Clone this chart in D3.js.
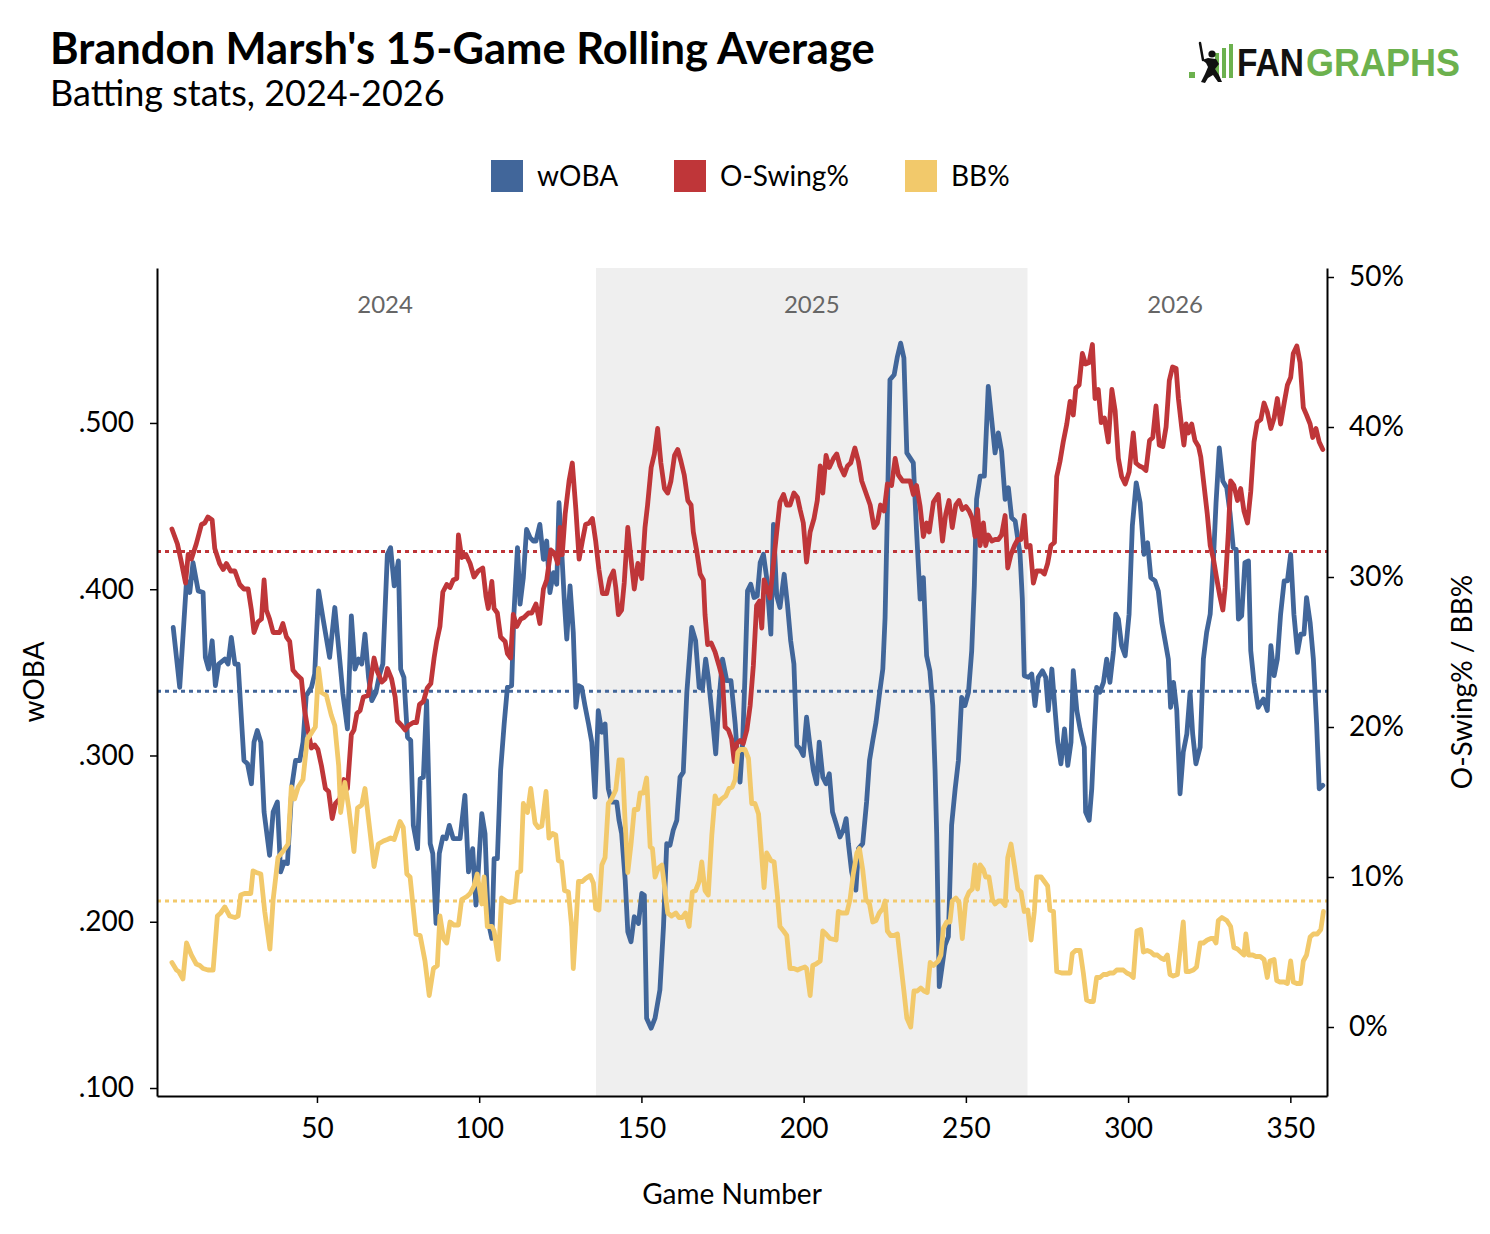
<!DOCTYPE html>
<html lang="en">
<head>
<meta charset="utf-8">
<title>Brandon Marsh's 15-Game Rolling Average</title>
<script src="https://cdn.jsdelivr.net/npm/d3@7"></script>
<style>
  body { margin: 0; background: #fff; }
  svg text { font-family: Lato, "Open Sans", sans-serif; }
</style>
</head>
<body>
<script>
// series: [game number, value]
var wobaPoints = [[5.7,.377],[7.7,.341],[9.8,.405],[10.8,.398],[11.8,.416],[13.4,.399],[14.9,.398],[15.6,.359],[16.6,.352],[17.7,.369],[18.7,.342],[19.7,.355],[21.6,.358],[22.6,.355],[23.6,.371],[24.7,.355],[25.7,.355],[26.9,.316],[27.5,.297],[28.6,.295],[29.8,.283],[30.6,.308],[31.6,.315],[32.7,.308],[33.7,.266],[35.4,.240],[36.5,.266],[37.8,.272],[38.8,.230],[39.9,.236],[40.9,.235],[42.3,.282],[43.4,.297],[44.7,.297],[45.7,.308],[46.7,.336],[48.3,.341],[49.3,.349],[50.5,.399],[51.9,.382],[53.9,.359],[55.5,.389],[57.0,.358],[58.0,.337],[59.4,.316],[60.6,.384],
  [61.7,.352],[62.8,.358],[63.8,.355],[64.8,.373],[65.9,.347],[66.9,.333],[68.2,.338],[69.2,.348],[70.3,.355],[71.7,.421],[72.7,.425],[73.8,.402],[75.1,.417],[75.8,.352],[76.8,.347],[77.9,.311],[78.9,.309],[79.7,.258],[81.0,.244],[81.8,.286],[82.8,.287],[83.8,.333],[84.9,.247],[85.7,.241],[86.7,.199],[87.7,.241],[88.8,.251],[89.8,.250],[90.8,.258],[92.0,.250],[94.1,.250],[95.6,.276],[96.7,.230],[98.0,.244],[99.0,.210],[99.7,.230],[100.8,.265],[101.8,.253],[102.8,.200],[103.9,.190],[104.6,.238],[105.6,.238],[106.6,.291],[107.7,.319],[108.7,.341],[110.0,.342],[110.7,.385],[111.8,.425],[112.6,.391],[113.6,.407],[114.6,.436],[115.7,.431],[116.7,.429],[117.5,.429],[118.7,.439],[119.8,.418],[120.8,.429],
  [121.8,.398],[122.9,.410],[123.9,.403],[124.6,.452],[125.4,.424],[126.3,.391],[127.0,.370],[128.0,.402],[129.0,.374],[129.8,.329],[130.6,.342],[131.6,.341],[132.6,.330],[133.7,.319],[134.7,.308],[135.7,.275],[136.7,.327],[137.8,.314],[138.8,.319],[139.8,.280],[140.8,.272],[142.4,.272],[143.1,.261],[143.9,.253],[145.0,.225],[145.8,.194],[146.8,.188],[147.8,.203],[149.1,.199],[150.1,.217],[150.9,.216],[151.6,.142],[153.0,.136],[154.2,.142],[155.7,.159],[156.8,.197],[157.8,.247],[158.8,.246],[159.8,.255],[160.9,.261],[161.9,.287],[162.9,.290],[164.0,.338],[165.5,.377],[166.7,.369],[167.8,.341],[168.8,.340],[169.8,.358],[170.6,.347],[171.9,.322],[172.9,.301],[173.9,.333],[175.0,.358],[176.3,.345],[177.6,.345],[178.9,.319],[179.9,.291],
  [180.4,.284],[181.2,.308],[181.9,.347],[182.7,.399],[183.7,.403],[184.7,.395],[185.7,.396],[186.6,.416],[187.6,.421],[188.6,.407],[189.9,.373],[190.7,.439],[191.7,.396],[192.7,.389],[194.0,.409],[195.0,.391],[196.0,.369],[197.0,.355],[197.9,.306],[198.9,.304],[199.9,.300],[200.9,.323],[202.0,.305],[203.0,.291],[204.0,.283],[204.8,.308],[205.9,.287],[206.9,.283],[207.9,.289],[208.9,.266],[210.0,.259],[211.2,.251],[212.2,.255],[213.1,.262],[213.8,.247],[214.8,.230],[216.1,.219],[216.9,.244],[218.2,.247],[219.4,.272],[220.3,.297],[221.3,.309],[222.3,.320],[223.3,.336],[224.4,.352],[225.1,.383],[225.8,.446],[226.6,.526],[227.9,.529],[228.9,.540],[229.9,.548],[230.9,.539],[231.8,.482],[232.8,.479],[233.8,.476],[234.8,.435],[235.9,.394],[236.9,.407],[237.9,.360],[238.9,.351],[239.8,.330],[240.5,.291],[241.0,.253],[241.8,.161],
  [242.8,.175],[243.6,.186],[244.6,.191],[245.6,.258],[246.7,.280],[247.7,.297],[248.7,.335],[249.7,.330],[250.8,.338],[251.8,.363],[252.6,.402],[253.3,.454],[254.4,.468],[255.7,.468],[256.9,.522],[258.0,.501],[259.0,.482],[260.0,.494],[261.0,.483],[262.1,.454],[263.1,.461],[264.1,.443],[265.2,.441],[266.7,.421],[267.4,.394],[268.0,.348],[269.3,.347],[270.3,.349],[271.3,.330],[272.3,.347],[273.6,.351],[274.6,.347],[275.4,.327],[276.5,.352],[277.5,.327],[278.3,.308],[279.3,.295],[280.4,.316],[281.4,.294],[282.4,.308],[283.1,.351],[284.2,.327],[285.2,.316],[286.5,.305],[286.9,.266],[288.0,.261],[288.8,.280],[289.6,.314],[290.3,.341],[291.3,.338],[292.4,.344],[293.4,.358],[294.4,.344],[295.5,.363],[296.2,.385],[297.0,.382],[298.0,.366],[299.1,.360],[300.3,.385],[301.3,.438],[302.5,.464],
  [303.7,.452],[304.9,.421],[306.0,.428],[307.0,.407],[308.3,.405],[309.3,.399],[310.4,.380],[311.4,.369],[312.4,.358],[313.1,.329],[314.0,.344],[315.0,.327],[316.0,.277],[317.0,.302],[318.1,.313],[319.1,.338],[319.9,.313],[320.9,.295],[322.2,.305],[323.2,.358],[324.2,.374],[325.3,.385],[326.3,.418],[327.1,.452],[328.1,.485],[329.2,.465],[330.4,.461],[331.4,.446],[332.4,.425],[333.3,.424],[334.0,.382],[335.0,.384],[336.0,.416],[337.1,.417],[337.8,.363],[338.8,.344],[340.1,.329],[341.7,.334],[342.9,.327],[344.0,.366],[345.0,.348],[346.0,.358],[347.0,.385],[348.1,.405],[349.1,.405],[350.1,.421],[351.1,.385],[352.2,.362],[353.2,.373],[354.2,.373],[355.0,.395],[356.1,.380],[357.1,.358],[358.1,.319],[358.9,.280],[360.0,.282]];

var oswingPoints = [[5.3,33.2],[7.0,32.2],[8.2,31.0],[9.5,29.6],[10.3,31.5],[11.3,31.2],[12.8,32.2],[14.4,33.5],[15.4,33.6],[16.4,34.0],[17.7,33.8],[18.5,31.9],[20.0,30.9],[21.1,30.5],[22.1,30.9],[23.4,30.4],[24.7,30.4],[26.2,29.5],[27.5,29.2],[28.8,29.2],[29.8,27.8],[30.6,26.3],[31.8,27.0],[32.9,27.2],[33.7,29.8],[34.4,27.8],[35.4,27.2],[36.5,26.3],[38.5,26.3],[39.5,26.9],[40.6,26.0],[41.6,25.7],[42.6,23.8],[43.7,23.5],[45.2,23.2],[46.2,21.1],[47.3,19.7],[48.3,18.6],[49.3,18.8],[50.3,18.5],[51.4,17.4],[52.6,15.9],[53.6,15.7],[54.7,13.9],[55.7,14.9],[57.0,15.2],[58.3,16.5],[59.4,15.9],[60.6,19.5],
  [61.4,19.8],[62.3,20.9],[63.3,21.1],[64.3,22.0],[65.8,22.1],[67.6,24.6],[68.6,23.7],[70.0,23.0],[71.0,23.2],[71.7,23.9],[73.0,23.2],[74.1,22.0],[74.8,20.4],[76.1,20.1],[77.2,19.8],[78.2,20.1],[79.7,20.3],[80.7,20.3],[81.6,21.5],[82.8,21.7],[84.0,22.6],[85.1,22.9],[86.1,24.6],[86.9,25.7],[87.9,26.7],[88.8,29.0],[90.0,29.5],[91.0,29.3],[92.0,29.8],[93.1,29.9],[93.6,32.8],[94.6,31.3],[95.9,31.5],[97.2,30.9],[98.4,30.0],[99.7,30.4],[101.1,30.6],[102.1,28.7],[102.8,27.9],[103.9,29.7],[104.6,27.9],[105.6,27.6],[106.6,26.0],[108.0,25.7],[108.7,24.9],[109.7,24.6],[110.5,27.5],[111.6,26.7],[112.8,27.2],[113.8,27.3],[115.2,27.6],[116.2,27.6],[117.5,28.2],[118.7,26.9],[119.8,29.2],[120.8,29.8],
  [122.1,31.8],[123.2,31.6],[124.2,30.9],[124.9,33.3],[125.6,31.5],[126.5,34.2],[127.7,36.4],[128.7,37.6],[129.8,34.5],[130.8,31.2],[131.8,32.4],[132.8,33.5],[133.9,33.6],[134.9,33.9],[135.9,32.4],[136.9,30.5],[138.0,28.9],[139.3,28.9],[140.3,29.9],[141.4,30.4],[142.1,29.3],[142.9,27.5],[143.9,27.8],[144.7,29.6],[145.8,33.3],[146.8,31.2],[147.8,29.2],[148.9,30.9],[150.1,29.9],[151.1,33.3],[151.9,34.8],[153.0,37.3],[154.0,38.2],[155.0,39.9],[156.0,37.6],[157.1,35.9],[158.1,35.6],[159.1,36.4],[160.2,38.1],[161.2,38.5],[162.2,37.7],[163.2,36.8],[164.3,35.1],[165.3,34.8],[166.0,33.0],[167.0,31.8],[168.1,30.2],[169.1,29.8],[169.6,27.5],[170.4,25.5],[171.5,25.6],[172.7,25.0],[173.9,24.1],[175.0,23.2],[175.8,20.0],[176.8,19.8],[177.8,19.2],[178.6,17.7],[179.4,18.9],
  [180.4,19.1],[181.4,18.9],[182.5,19.8],[183.5,21.4],[184.5,24.1],[185.5,28.1],[186.4,28.4],[187.1,26.6],[187.8,29.8],[188.6,29.3],[189.6,28.6],[190.7,30.9],[191.7,33.0],[192.7,35.0],[193.8,35.5],[194.8,34.8],[195.8,34.8],[197.0,35.6],[198.1,35.3],[198.9,34.5],[199.9,33.6],[200.9,31.0],[202.0,33.0],[203.2,33.9],[204.2,35.1],[205.1,37.4],[205.9,35.6],[206.9,38.1],[207.9,37.3],[209.2,37.9],[210.2,38.2],[211.2,37.4],[212.5,36.8],[213.5,37.4],[214.5,37.6],[215.8,38.6],[216.9,37.7],[217.9,36.4],[219.2,35.6],[220.5,34.8],[221.7,33.3],[222.7,33.6],[223.7,34.8],[224.8,34.4],[225.8,36.2],[227.1,36.1],[228.2,37.9],[229.2,36.8],[230.5,36.4],[231.8,36.4],[232.8,36.4],[233.8,35.5],[234.8,36.1],[235.9,34.7],[236.9,32.7],[237.9,33.6],[238.7,33.0],[240.0,35.0],
  [241.5,35.5],[242.8,32.4],[243.8,34.2],[244.8,35.1],[245.8,33.3],[246.9,34.8],[247.9,35.1],[248.9,34.5],[250.0,34.7],[251.0,34.4],[252.0,33.9],[252.8,32.7],[253.6,34.5],[254.4,32.1],[255.4,33.6],[256.1,32.1],[256.9,32.8],[258.0,32.4],[259.0,32.5],[260.0,32.5],[261.0,32.8],[262.1,34.1],[262.9,30.6],[263.9,31.5],[265.0,32.1],[266.0,32.5],[267.0,32.5],[268.0,34.1],[268.7,32.0],[269.8,32.1],[270.8,29.6],[271.8,30.4],[273.2,30.4],[274.2,30.2],[275.2,30.9],[276.2,32.1],[277.3,32.3],[278.0,36.7],[279.0,37.7],[280.0,39.0],[281.1,40.2],[282.1,41.7],[283.1,40.8],[283.9,42.6],[284.9,42.8],[285.9,44.9],[286.9,44.2],[288.0,44.3],[289.0,45.5],[289.8,41.9],[290.8,42.5],[291.7,40.3],[292.7,40.6],[293.9,39.0],[295.0,42.5],[296.0,41.1],[297.0,37.9],[298.0,36.7],[299.1,36.2],[300.3,37.0],[301.6,39.6],
  [302.4,37.6],[303.5,37.4],[304.5,37.3],[305.5,37.1],[306.6,39.1],[307.6,39.3],[308.6,41.4],[309.6,38.8],[310.7,38.7],[311.7,40.0],[312.7,43.1],[313.7,44.0],[314.8,43.9],[315.5,41.9],[316.5,40.0],[317.2,38.8],[317.9,40.2],[318.6,39.6],[319.6,40.2],[320.6,39.1],[321.7,38.7],[322.4,38.0],[323.4,36.1],[324.4,34.2],[325.3,32.1],[326.3,31.2],[327.3,29.9],[328.3,28.7],[329.2,27.8],[329.9,29.3],[330.9,33.0],[331.6,36.4],[332.6,36.1],[333.7,35.1],[334.7,35.9],[335.7,34.4],[336.8,33.6],[337.8,35.7],[338.8,39.0],[339.8,40.3],[340.9,40.5],[341.9,41.6],[342.9,41.0],[344.0,39.9],[345.0,40.6],[346.0,41.9],[347.0,40.2],[348.1,41.6],[349.1,42.8],[350.1,43.3],[350.9,44.9],[352.0,45.4],[353.0,44.3],[354.0,41.3],[355.0,40.8],[356.1,40.2],[356.9,39.3],[357.9,39.9],[358.9,39.0],[360.0,38.5]];

var bbPoints = [[5.3,4.3],[6.7,3.8],[7.4,3.7],[8.7,3.2],[9.8,5.6],[11.3,4.8],[12.8,4.2],[13.9,4.1],[14.9,3.9],[16.4,3.8],[18.0,3.8],[19.3,7.4],[20.3,7.6],[21.6,8.0],[23.1,7.4],[24.7,7.3],[25.7,7.4],[26.5,8.8],[27.7,8.9],[29.6,8.9],[30.3,10.4],[31.3,10.3],[32.7,10.2],[33.9,7.7],[35.5,5.2],[36.5,8.5],[38.0,11.3],[39.5,11.7],[41.1,12.2],[42.1,16.0],[43.1,15.2],[44.2,16.0],[45.7,16.5],[47.0,19.2],[48.3,19.6],[49.5,20.0],[50.5,23.9],[51.4,22.3],[52.9,22.1],[54.4,20.8],[55.5,20.1],[56.7,17.4],[57.3,14.3],[58.6,16.3],[59.8,14.6],[61.4,11.7],
  [62.5,14.6],[63.8,14.8],[64.8,15.9],[66.2,13.3],[67.6,10.7],[68.9,12.2],[70.5,12.4],[71.7,12.5],[72.7,12.6],[73.8,12.5],[75.6,13.7],[76.6,13.3],[77.7,10.2],[78.7,10.0],[80.5,6.2],[81.8,6.1],[83.3,4.4],[84.6,2.1],[85.9,3.9],[87.1,4.1],[87.9,7.4],[89.0,5.9],[90.0,5.6],[91.0,7.0],[92.2,6.8],[93.6,6.8],[94.6,8.5],[96.2,8.7],[97.2,8.9],[98.4,9.4],[99.4,10.2],[100.8,8.2],[101.5,10.0],[102.5,6.7],[103.9,6.7],[104.6,6.4],[105.9,4.5],[106.9,8.6],[108.3,8.4],[109.5,8.3],[111.0,8.4],[111.8,10.3],[112.8,10.4],[113.6,14.9],[114.9,14.3],[115.9,15.9],[117.2,13.6],[118.2,13.3],[119.3,13.4],[120.6,15.7],
  [121.5,12.6],[122.6,12.9],[123.6,12.8],[124.4,11.1],[125.4,11.0],[126.3,9.1],[127.5,9.0],[128.5,6.7],[129.0,3.9],[129.8,6.7],[130.6,9.7],[131.8,9.7],[132.8,9.9],[134.2,10.1],[135.2,9.6],[135.9,7.9],[136.9,7.8],[137.8,10.8],[138.8,11.3],[139.8,14.9],[140.8,15.2],[142.1,15.8],[143.1,17.8],[144.1,17.8],[144.9,14.0],[145.8,10.3],[146.8,12.2],[147.8,14.5],[148.9,14.5],[149.6,15.6],[150.6,15.6],[151.6,16.6],[152.7,12.0],[153.4,11.9],[154.2,10.0],[155.2,10.6],[156.3,10.8],[157.1,9.4],[158.1,7.6],[159.3,7.4],[160.6,7.6],[161.6,7.3],[162.6,7.3],[163.6,7.6],[164.7,6.7],[165.7,9.0],[166.7,9.1],[167.8,9.7],[168.6,11.0],[169.6,9.1],[170.6,8.8],[171.7,12.8],[172.7,15.4],[173.7,14.9],[174.7,15.2],[176.0,15.4],[177.0,15.9],[178.0,16.0],[178.9,16.5],[179.7,18.3],
  [180.4,18.5],[181.9,18.5],[183.0,17.9],[184.0,14.9],[185.0,14.9],[186.1,14.2],[186.8,12.2],[187.8,9.3],[188.6,11.6],[189.9,11.1],[190.9,11.0],[191.9,8.8],[192.7,6.7],[193.8,6.4],[194.8,6.1],[195.8,3.9],[197.0,3.9],[198.1,3.8],[199.1,3.9],[200.4,4.0],[200.9,3.9],[202.0,2.1],[202.8,4.1],[203.8,4.2],[205.1,4.4],[205.9,6.4],[206.9,6.2],[208.1,5.9],[210.0,5.8],[210.7,7.7],[211.7,7.6],[213.3,7.6],[214.3,8.5],[215.3,10.2],[216.4,11.6],[217.2,11.9],[218.2,10.5],[219.2,8.5],[220.3,8.2],[221.3,7.0],[222.3,7.1],[223.3,7.6],[224.4,7.9],[225.1,8.4],[225.8,6.4],[226.8,6.1],[227.9,6.1],[228.9,6.2],[229.9,4.3],[230.9,2.4],[231.8,0.6],[233.0,0.0],[234.0,2.4],[235.0,2.4],[236.1,2.6],[237.1,2.4],[238.1,2.3],[239.0,4.3],[240.0,4.1],
  [241.5,4.4],[242.3,4.8],[243.1,6.6],[244.1,7.0],[245.1,7.0],[245.8,8.4],[246.9,8.6],[247.9,8.3],[248.9,5.9],[250.0,8.5],[251.0,9.0],[252.0,9.2],[252.8,10.8],[253.6,9.2],[254.4,10.8],[255.4,10.5],[256.1,10.0],[257.1,10.0],[258.2,8.5],[259.0,8.2],[260.0,8.4],[261.0,8.4],[262.1,8.1],[262.9,11.3],[263.9,12.2],[265.0,10.7],[266.0,9.2],[267.0,9.0],[268.0,7.7],[269.1,7.8],[270.1,5.8],[271.1,7.7],[271.8,10.0],[273.2,10.0],[274.2,9.7],[275.2,9.4],[275.9,7.8],[277.0,7.7],[278.0,3.7],[279.5,3.6],[281.1,3.6],[282.1,3.6],[282.8,4.9],[283.8,5.1],[285.2,5.1],[286.2,3.6],[287.2,1.8],[288.3,1.7],[289.3,1.7],[290.3,3.3],[291.3,3.3],[292.4,3.5],[293.4,3.5],[294.4,3.6],[295.5,3.6],[296.5,3.8],[297.5,3.8],[298.5,3.8],[299.6,3.6],[300.6,3.5],[301.6,3.3],
  [302.7,6.4],[303.9,6.5],[304.7,5.0],[305.9,5.1],[307.0,5.0],[308.0,4.8],[309.0,4.8],[310.1,4.6],[311.1,4.5],[312.1,4.8],[312.9,3.5],[313.9,3.4],[315.2,3.5],[316.2,5.5],[317.0,7.0],[317.9,3.7],[318.9,3.7],[320.1,3.8],[321.1,4.0],[322.2,5.6],[323.2,5.6],[324.4,5.8],[325.5,5.9],[326.3,5.9],[327.1,5.6],[327.8,7.1],[328.9,7.3],[330.4,7.1],[331.6,6.7],[332.6,5.3],[333.7,5.2],[334.7,5.0],[335.7,4.8],[336.3,6.2],[337.1,4.8],[338.4,4.8],[339.4,4.7],[340.7,4.7],[341.9,4.5],[342.9,3.3],[343.7,4.4],[345.0,4.5],[345.8,3.1],[346.8,3.0],[348.1,3.0],[349.1,2.9],[350.1,4.4],[350.9,3.0],[352.0,2.9],[353.2,2.9],[354.0,4.4],[355.0,4.8],[356.1,6.0],[357.1,6.2],[358.3,6.2],[359.4,6.5],[360.2,7.7]];

// dotted average lines
var wobaAvg = .3386;
var oswingAvg = 31.7;
var bbAvg = 8.4;

// seasons: label, first game, last game
var seasons = ["2024", "2025", "2026"];
var seasonStart = [6, 136, 269];
var seasonEnd = [136, 269, 360];

var gameTicks = [50, 100, 150, 200, 250, 300, 350];
var wobaTicks = [.1, .2, .3, .4, .5];
var pctTicks = [0, 10, 20, 30, 40, 50];

var seriesNames = ["wOBA", "O-Swing%", "BB%"];
var seriesColors = ["#41669a", "#bf3639", "#f2c96b"];

//Width and height
var w = 1490;
var h = 1234;
var plotLeft = 157, plotRight = 1327, plotTop = 268, plotBottom = 1096;

var svg = d3.select("body").append("svg")
  .attr("width", w)
  .attr("height", h);

var x = d3.scaleLinear().domain([0.7, 361.3]).range([plotLeft, plotRight]);
var yL = d3.scaleLinear().domain([.0952, .5932]).range([plotBottom, plotTop]);
var yR = d3.scaleLinear().domain([-4.6, 50.6]).range([plotBottom, plotTop]);

// title + subtitle
svg.append("text").attr("x", 50).attr("y", 64)
  .style("font-size", "43.5px").style("font-weight", "bold").attr("fill", "#000")
  .text("Brandon Marsh's 15-Game Rolling Average");
svg.append("text").attr("x", 50).attr("y", 106)
  .style("font-size", "36px").attr("fill", "#000")
  .text("Batting stats, 2024-2026");

// logo
var logo = svg.append("g");
var green = "#6cb14e";
logo.append("rect").attr("x", 1189).attr("y", 72).attr("width", 6).attr("height", 6).attr("fill", green);
logo.append("rect").attr("x", 1215).attr("y", 53).attr("width", 4).attr("height", 25).attr("fill", green);
logo.append("rect").attr("x", 1222).attr("y", 48).attr("width", 4).attr("height", 30).attr("fill", green);
logo.append("rect").attr("x", 1229).attr("y", 44).attr("width", 4).attr("height", 34).attr("fill", green);
logo.append("line").attr("x1", 1203).attr("y1", 60).attr("x2", 1200).attr("y2", 43)
  .attr("stroke", "#111").attr("stroke-width", 2.5).attr("stroke-linecap", "round");
logo.append("circle").attr("cx", 1212).attr("cy", 54).attr("r", 3.6).attr("fill", "#111");
logo.append("path")
  .attr("d", "M1202,60 L1208,58 L1216,59 L1219,64 L1215,69 L1219,75 L1222,82 L1218,82 L1213,75 L1208,78 L1205,83 L1201,82 L1205,74 L1208,67 L1206,63 Z")
  .attr("fill", "#111");
logo.append("text").attr("x", 1237).attr("y", 76)
  .attr("textLength", 67).attr("lengthAdjust", "spacingAndGlyphs")
  .style("font-family", "'Liberation Sans', Arial, sans-serif")
  .style("font-size", "38px").style("font-weight", "bold")
  .attr("fill", "#111").text("FAN");
logo.append("text").attr("x", 1306).attr("y", 76)
  .attr("textLength", 154).attr("lengthAdjust", "spacingAndGlyphs")
  .style("font-family", "'Liberation Sans', Arial, sans-serif")
  .style("font-size", "38px").style("font-weight", "bold")
  .attr("fill", green).text("GRAPHS");

// legend
var legendX = [491, 674, 905];
var legend = svg.selectAll(".legend").data(seriesNames).enter().append("g");
legend.append("rect")
  .attr("x", function(d, i) { return legendX[i]; })
  .attr("y", 160).attr("width", 32).attr("height", 32)
  .attr("fill", function(d, i) { return seriesColors[i]; });
legend.append("text")
  .attr("x", function(d, i) { return legendX[i] + 46; })
  .attr("y", 186)
  .style("font-size", "28px")
  .text(function(d) { return d; });

// 2025 shading
svg.append("rect")
  .attr("x", x(seasonStart[1])).attr("y", plotTop)
  .attr("width", x(seasonEnd[1]) - x(seasonStart[1]))
  .attr("height", plotBottom - plotTop)
  .attr("fill", "#efefef");

// season labels
svg.selectAll(".season").data(seasons).enter().append("text")
  .attr("x", function(d, i) { return x((seasonStart[i] + seasonEnd[i]) / 2); })
  .attr("y", 313)
  .attr("text-anchor", "middle")
  .style("font-size", "24px")
  .attr("fill", "#666")
  .text(function(d) { return d; });

// dotted averages
function refLine(yv, c) {
  svg.append("line")
    .attr("x1", plotLeft).attr("x2", plotRight)
    .attr("y1", yv).attr("y2", yv)
    .attr("stroke", c).attr("stroke-width", 3)
    .attr("stroke-dasharray", "4,4");
}
refLine(yR(oswingAvg), seriesColors[1]);
refLine(yL(wobaAvg), seriesColors[0]);
refLine(yR(bbAvg), seriesColors[2]);

// lines
var lineL = d3.line().x(function(d) { return x(d[0]); }).y(function(d) { return yL(d[1]); });
var lineR = d3.line().x(function(d) { return x(d[0]); }).y(function(d) { return yR(d[1]); });

function drawLine(data, gen, c) {
  svg.append("path")
    .datum(data)
    .attr("d", gen)
    .attr("fill", "none")
    .attr("stroke", c)
    .attr("stroke-width", 4.8)
    .attr("stroke-linejoin", "round")
    .attr("stroke-linecap", "round");
}
drawLine(wobaPoints, lineL, seriesColors[0]);
drawLine(oswingPoints, lineR, seriesColors[1]);
drawLine(bbPoints, lineR, seriesColors[2]);

// axes
var fmtWoba = function(d) { return d3.format(".3f")(d).replace(/^0/, ""); };

var axB = svg.append("g").attr("transform", "translate(0," + plotBottom + ")")
  .call(d3.axisBottom(x).tickValues(gameTicks).tickSize(7).tickPadding(15).tickSizeOuter(0));
var axL = svg.append("g").attr("transform", "translate(" + plotLeft + ",0)")
  .call(d3.axisLeft(yL).tickValues(wobaTicks).tickFormat(fmtWoba).tickSize(7).tickPadding(16).tickSizeOuter(0));
var axR = svg.append("g").attr("transform", "translate(" + plotRight + ",0)")
  .call(d3.axisRight(yR).tickValues(pctTicks).tickFormat(function(d) { return d + "%"; }).tickSize(7).tickPadding(15).tickSizeOuter(0));

[axB, axL, axR].forEach(function(a) {
  a.selectAll("path").attr("stroke", "#000").attr("stroke-width", 2);
  a.selectAll("line").attr("stroke", "#000").attr("stroke-width", 1.5);
  a.selectAll("text").style("font-family", "Lato, sans-serif").style("font-size", "28px").attr("fill", "#000");
});

// axis titles
svg.append("text").attr("x", 732).attr("y", 1204).attr("text-anchor", "middle")
  .style("font-size", "28px").text("Game Number");
svg.append("text").attr("transform", "translate(44,682) rotate(-90)").attr("text-anchor", "middle")
  .style("font-size", "28px").text("wOBA");
svg.append("text").attr("transform", "translate(1472,682) rotate(-90)").attr("text-anchor", "middle")
  .style("font-size", "28px").text("O-Swing% / BB%");
</script>
</body>
</html>
